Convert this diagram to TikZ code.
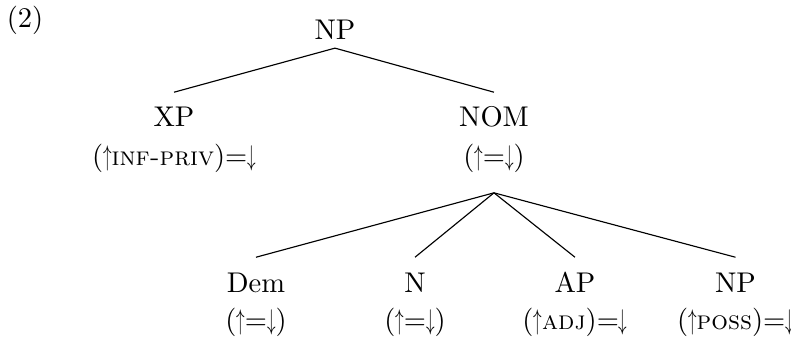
\documentclass[tikz,border=0pt]{standalone}
\usepackage{amsmath,amssymb}
\usepackage{graphicx}
\usepackage{tikz}
\usetikzlibrary{positioning}

\newcommand{\fup}{\scalebox{0.6}[1]{$\uparrow$}}
\newcommand{\fdown}{\scalebox{0.6}[1]{$\downarrow$}}
\newcommand{\fsc}[1]{{\fontsize{9.2pt}{10pt}\selectfont\textsc{#1}}}

\begin{document}
\begin{tikzpicture}[cat/.style={inner sep=3pt, text height=9pt, text depth=0pt, anchor=base}, ann/.style={inner sep=3pt}, edge/.style={line width=0.4pt}]
\useasboundingbox (0,0) rectangle (9.755,-4.144);
\node[anchor=base] (exnum) at (0.308,-0.345) {(2)};
\node[cat] (np) at (4.131,-0.481) {NP};
\node[cat] (xp) at (2.146,-1.566) {XP};
\node[cat] (nom) at (6.092,-1.566) {NOM};
\node[ann, below=2.7pt of xp.base] (xpf) {(\fup\fsc{inf-priv})=\fdown};
\node[ann, below=2.7pt of nom.base] (nomf) {(\fup=\fdown)};
\coordinate[below=4pt of nomf] (join);
\node[cat] (dem) at (3.157,-3.601) {Dem};
\node[cat] (n) at (5.118,-3.601) {N};
\node[cat] (ap) at (7.091,-3.601) {AP};
\node[cat] (poss) at (9.070,-3.601) {NP};
\node[ann, below=2.5pt of dem.base] (demf) {(\fup=\fdown)};
\node[ann, below=2.5pt of n.base] (nf) {(\fup=\fdown)};
\node[ann, below=2.5pt of ap.base] (apf) {(\fup\fsc{adj})=\fdown};
\node[ann, below=2.5pt of poss.base] (possf) {(\fup\fsc{poss})=\fdown};
\draw[edge] (np.south) -- (xp.north);
\draw[edge] (np.south) -- (nom.north);
\draw[edge] (join) -- (dem.north);
\draw[edge] (join) -- (n.north);
\draw[edge] (join) -- (ap.north);
\draw[edge] (join) -- (poss.north);
\end{tikzpicture}
\end{document}
